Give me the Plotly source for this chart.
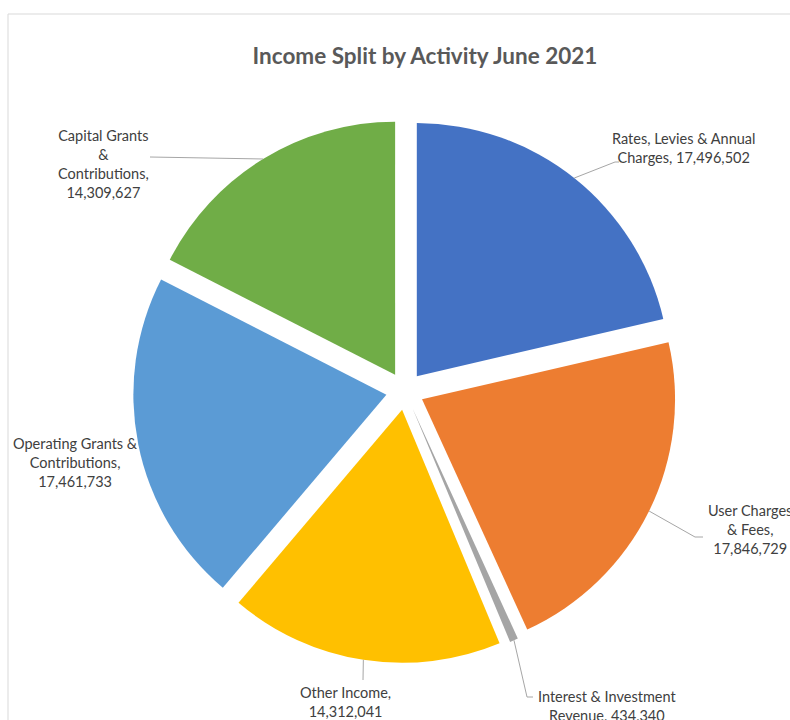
import math
import plotly.graph_objects as go

# Income by activity, June 2021
categories = [
    "Rates, Levies & Annual Charges",
    "User Charges & Fees",
    "Interest & Investment Revenue",
    "Other Income",
    "Operating Grants & Contributions",
    "Capital Grants & Contributions",
]
values = [17496502, 17846729, 434340, 14312041, 17461733, 14309627]
label_text = [
    "Rates, Levies & Annual<br>Charges, {}",
    "User Charges<br>& Fees,<br>{}",
    "Interest & Investment<br>Revenue, {}",
    "Other Income,<br>{}",
    "Operating Grants &<br>Contributions,<br>{}",
    "Capital Grants<br>&<br>Contributions,<br>{}",
]
colors = ["#4472C4", "#ED7D31", "#A5A5A5", "#FFC000", "#5B9BD5", "#70AD47"]

W, H = 790, 720
PULL = 0.075
CX, CY = 405, 391          # pie centre, pixels from top-left
R_OUT = 272                # radius incl. pull, pixels

# label centres (pixels) and leader elbows relative to the slice edge
label_pos = [(683, 148), (750, 529), (607, 706), (345, 702), (75, 462), (103, 164)]
leader_pts = [
    [(615, 162), (619, 162)],
    [(695, 537), (703, 537)],
    [(527, 697), (533, 697)],
    [(363, 680)],
    [],
    [(150, 157)],
]

fig = go.Figure(go.Pie(
    labels=categories,
    values=values,
    sort=False,
    direction="clockwise",
    rotation=0,
    pull=PULL,
    marker=dict(colors=colors, line=dict(width=0)),
    textinfo="none",
    hoverinfo="label+value",
    showlegend=False,
    domain=dict(
        x=[(CX - R_OUT) / W, (CX + R_OUT) / W],
        y=[(H - CY - R_OUT) / H, (H - CY + R_OUT) / H],
    ),
))


def px(x, y):
    return x / W, 1 - y / H


# slice-edge anchor points from the cumulative angles
total = sum(values)
shapes = []
annotations = []
cum = 0
for i, v in enumerate(values):
    mid = (cum + v / 2) / total * 2 * math.pi
    cum += v
    ex = CX + R_OUT * math.sin(mid)
    ey = CY - R_OUT * math.cos(mid)
    pts = [(ex, ey)] + leader_pts[i]
    for (x0, y0), (x1, y1) in zip(pts[:-1], pts[1:]):
        a0, b0 = px(x0, y0)
        a1, b1 = px(x1, y1)
        shapes.append(dict(type="line", xref="paper", yref="paper",
                           x0=a0, y0=b0, x1=a1, y1=b1,
                           line=dict(color="#A6A6A6", width=1)))
    lx, ly = px(*label_pos[i])
    annotations.append(dict(
        x=lx, y=ly, xref="paper", yref="paper", showarrow=False,
        text=label_text[i].format(f"{v:,}"), align="center",
        xanchor="center", yanchor="middle",
        font=dict(family="Lato", size=14.5, color="#404040"),
    ))

# chart-area frame
shapes.append(dict(type="rect", xref="paper", yref="paper",
                   x0=8 / W, y0=-0.2, x1=1.2, y1=1 - 14 / H,
                   line=dict(color="#D9D9D9", width=1)))

fig.update_layout(
    width=W, height=H,
    margin=dict(l=0, r=0, t=0, b=0),
    paper_bgcolor="white",
    plot_bgcolor="white",
    title=dict(text="<b>Income Split by Activity June 2021</b>",
               x=425 / W, y=1 - 56 / H, xanchor="center", yanchor="middle",
               font=dict(family="Lato", size=22.5, color="#595959")),
    shapes=shapes,
    annotations=annotations,
)

fig.write_html("out.html")
